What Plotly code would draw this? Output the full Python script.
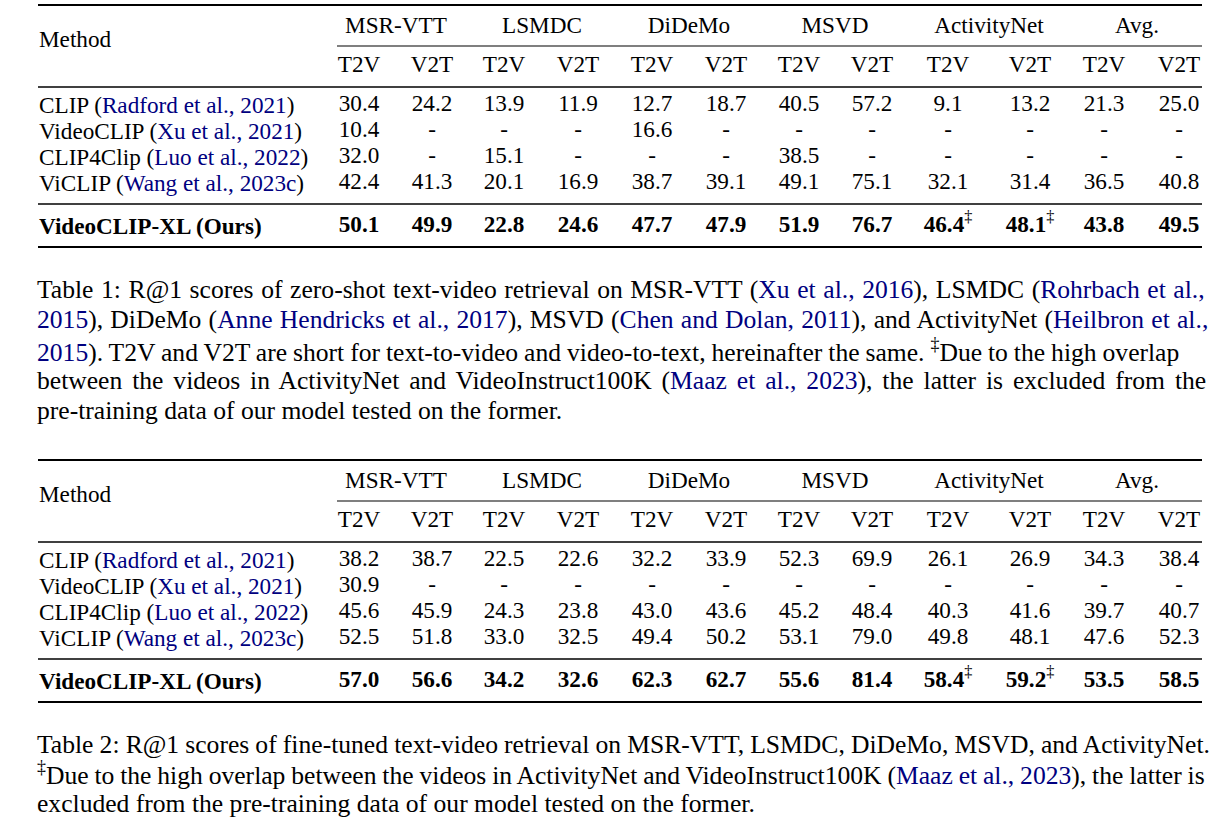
import plotly.graph_objects as go

# ---------------- data ----------------
datasets = ["MSR-VTT", "LSMDC", "DiDeMo", "MSVD", "ActivityNet", "Avg."]
subcols = ["T2V", "V2T"] * 6
methods = ["CLIP", "VideoCLIP", "CLIP4Clip", "ViCLIP"]
citations = ["Radford et al., 2021", "Xu et al., 2021", "Luo et al., 2022", "Wang et al., 2023c"]
ours_name = "VideoCLIP-XL (Ours)"

# zero-shot (Table 1)
clip_zs = [30.4, 24.2, 13.9, 11.9, 12.7, 18.7, 40.5, 57.2, 9.1, 13.2, 21.3, 25.0]
videoclip_zs = [10.4, None, None, None, 16.6, None, None, None, None, None, None, None]
clip4clip_zs = [32.0, None, 15.1, None, None, None, 38.5, None, None, None, None, None]
viclip_zs = [42.4, 41.3, 20.1, 16.9, 38.7, 39.1, 49.1, 75.1, 32.1, 31.4, 36.5, 40.8]
ours_zs = [50.1, 49.9, 22.8, 24.6, 47.7, 47.9, 51.9, 76.7, 46.4, 48.1, 43.8, 49.5]

# fine-tuned (Table 2)
clip_ft = [38.2, 38.7, 22.5, 22.6, 32.2, 33.9, 52.3, 69.9, 26.1, 26.9, 34.3, 38.4]
videoclip_ft = [30.9, None, None, None, None, None, None, None, None, None, None, None]
clip4clip_ft = [45.6, 45.9, 24.3, 23.8, 43.0, 43.6, 45.2, 48.4, 40.3, 41.6, 39.7, 40.7]
viclip_ft = [52.5, 51.8, 33.0, 32.5, 49.4, 50.2, 53.1, 79.0, 49.8, 48.1, 47.6, 52.3]
ours_ft = [57.0, 56.6, 34.2, 32.6, 62.3, 62.7, 55.6, 81.4, 58.4, 59.2, 53.5, 58.5]

dagger_cols = [8, 9]  # ActivityNet columns in "Ours" row

# ---------------- layout geometry ----------------
W, H = 1231, 837
FONT = "Liberation Serif"
INK = "#000000"
CITE = "#000080"
TFS = 23.2   # table font size
CFS = 25.6   # caption font size

col_x = [359, 432, 504, 578, 652, 726, 799, 872, 948, 1030, 1104, 1179]
ds_x = [396, 542, 689, 835, 989, 1137]
x_left, x_right, x_cmid = 38, 1202, 337


def C(s):
    return f'<span style="color:{CITE}">{s}</span>'


def fmt(v):
    return "-" if v is None else f"{v:.1f}"


fig = go.Figure()
shapes = []
annotations = []


def add_table(top, rows_data, ours_data):
    y_ds = top + 22
    y_method = top + 34
    y_cmid = top + 41
    y_sub = top + 61
    y_mid1 = top + 82
    row_y = [top + 100, top + 126, top + 152, top + 178]
    y_mid2 = top + 199
    y_ours = top + 221
    y_bot = top + 242

    for y0, x0, w in [(top, x_left, 2.2), (y_cmid, x_cmid, 1.1), (y_mid1, x_left, 1.4),
                      (y_mid2, x_left, 1.4), (y_bot, x_left, 2.2)]:
        shapes.append(dict(type="line", x0=x0, x1=x_right, y0=y0, y1=y0, xref="x", yref="y",
                           line=dict(color=INK, width=w)))

    annotations.append(dict(x=x_left, y=y_method, text="Method", xref="x", yref="y", xanchor="left",
                            yanchor="middle", showarrow=False, borderpad=0,
                            font=dict(family=FONT, size=TFS, color=INK)))
    fig.add_trace(go.Scatter(x=ds_x, y=[y_ds] * len(datasets), text=datasets, mode="text",
                             textposition="middle center", hoverinfo="skip",
                             textfont=dict(family=FONT, size=TFS, color=INK)))
    fig.add_trace(go.Scatter(x=col_x, y=[y_sub] * len(subcols), text=subcols, mode="text",
                             textposition="middle center", hoverinfo="skip",
                             textfont=dict(family=FONT, size=TFS, color=INK)))

    for i, (m, c, vals) in enumerate(zip(methods, citations, rows_data)):
        annotations.append(dict(x=x_left, y=row_y[i], text=f"{m} ({C(c)})", xref="x", yref="y",
                                xanchor="left", yanchor="middle", showarrow=False, borderpad=0,
                                font=dict(family=FONT, size=TFS, color=INK)))
        fig.add_trace(go.Scatter(x=col_x, y=[row_y[i]] * len(vals), text=[fmt(v) for v in vals],
                                 mode="text", textposition="middle center", hoverinfo="skip",
                                 textfont=dict(family=FONT, size=TFS, color=INK)))

    annotations.append(dict(x=x_left, y=y_ours, text=f"<b>{ours_name}</b>", xref="x", yref="y",
                            xanchor="left", yanchor="middle", showarrow=False, borderpad=0,
                            font=dict(family=FONT, size=TFS, color=INK)))
    otext = []
    for j, v in enumerate(ours_data):
        t = f"<b>{fmt(v)}</b>"
        if j in dagger_cols:
            t += "<sup>‡</sup>"
        otext.append(t)
    fig.add_trace(go.Scatter(x=col_x, y=[y_ours] * len(ours_data), text=otext, mode="text",
                             textposition="middle center", hoverinfo="skip",
                             textfont=dict(family=FONT, size=TFS, color=INK)))


add_table(5, [clip_zs, videoclip_zs, clip4clip_zs, viclip_zs], ours_zs)
add_table(460, [clip_ft, videoclip_ft, clip4clip_ft, viclip_ft], ours_ft)

cap1 = [
    "Table 1: R@1 scores of zero-shot text-video retrieval on MSR-VTT (" + C("Xu et al., 2016")
    + "), LSMDC (" + C("Rohrbach et al.,"),
    C("2015") + "), DiDeMo (" + C("Anne Hendricks et al., 2017") + "), MSVD ("
    + C("Chen and Dolan, 2011") + "), and ActivityNet (" + C("Heilbron et al.,"),
    C("2015") + "). T2V and V2T are short for text-to-video and video-to-text, hereinafter the same. "
    "<sup>‡</sup>Due to the high overlap",
    "between the videos in ActivityNet and VideoInstruct100K (" + C("Maaz et al., 2023")
    + "), the latter is excluded from the",
    "pre-training data of our model tested on the former.",
]
cap1_y = [289, 319, 350, 380, 410]
cap1_ws = [1.2, 0.85, -0.45, 3.5, 0]   # word spacing (px) to justify lines

cap2 = [
    "Table 2: R@1 scores of fine-tuned text-video retrieval on MSR-VTT, LSMDC, DiDeMo, MSVD, and ActivityNet.",
    "<sup>‡</sup>Due to the high overlap between the videos in ActivityNet and VideoInstruct100K ("
    + C("Maaz et al., 2023") + "), the latter is",
    "excluded from the pre-training data of our model tested on the former.",
]
cap2_y = [744, 773, 803]
cap2_ws = [-0.25, -0.55, 0]

for txt, y, ws in (list(zip(cap1, cap1_y, cap1_ws)) + list(zip(cap2, cap2_y, cap2_ws))):
    if ws:
        txt = f'<span style="word-spacing:{ws}px">{txt}</span>'
    annotations.append(dict(x=36, y=y, text=txt, xref="x", yref="y", xanchor="left",
                            yanchor="middle", showarrow=False, borderpad=0,
                            font=dict(family=FONT, size=CFS, color=INK)))

fig.update_layout(
    width=W, height=H,
    margin=dict(l=0, r=0, t=0, b=0),
    paper_bgcolor="white", plot_bgcolor="white",
    showlegend=False,
    xaxis=dict(range=[0, W], visible=False, fixedrange=True),
    yaxis=dict(range=[H, 0], visible=False, fixedrange=True),
    shapes=shapes,
    annotations=annotations,
)

fig.write_html("out.html", config={"displayModeBar": False},
               post_script="document.body.style.margin='0px';")
